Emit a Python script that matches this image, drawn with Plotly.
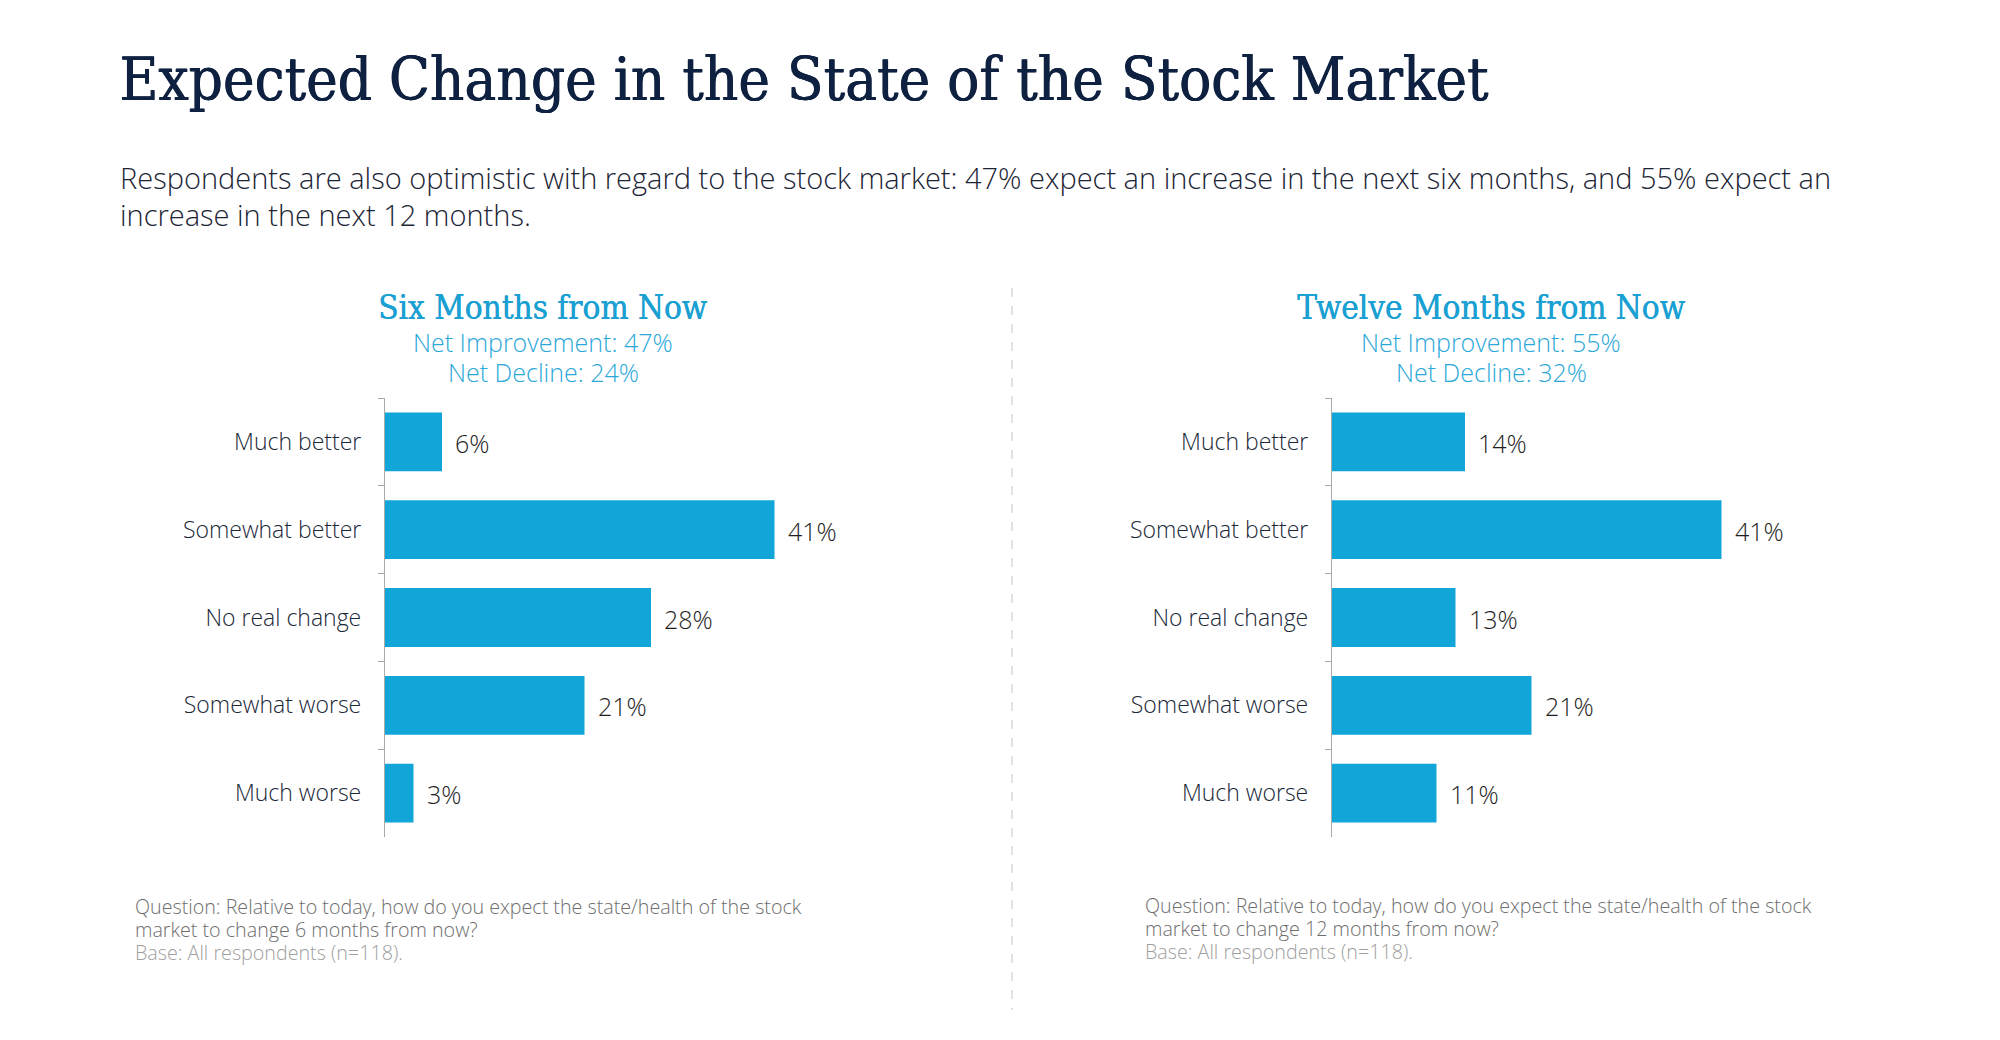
import plotly.graph_objects as go

# ---- data ----
categories = ["Much better", "Somewhat better", "No real change", "Somewhat worse", "Much worse"]
six_months = [6, 41, 28, 21, 3]
twelve_months = [14, 41, 13, 21, 11]
panel_titles = ["Six Months from Now", "Twelve Months from Now"]
net_improvement = [47, 55]
net_decline = [24, 32]
title_text = "Expected Change in the State of the Stock Market"
subtitle_lines = [
    "Respondents are also optimistic with regard to the stock market: 47% expect an increase in the next six months, and 55% expect an",
    "increase in the next 12 months.",
]
footnotes = [
    ["Question: Relative to today, how do you expect the state/health of the stock",
     "market to change 6 months from now?",
     "Base: All respondents (n=118)."],
    ["Question: Relative to today, how do you expect the state/health of the stock",
     "market to change 12 months from now?",
     "Base: All respondents (n=118)."],
]

OFF = 8  # browser body margin
W, H = 2000 - 2 * OFF, 1040 - 2 * OFF
BAR = "#12A5D8"
ACCENT = "#1AA0D2"
NAVY = "#0F2140"
SERIF = "DejaVu Serif Condensed, DejaVu Serif, serif"
SANS = "Open Sans, Noto Sans, sans-serif"

def px(x):
    return (x - OFF) / W

def py(y):
    return 1 - (y - OFF) / H

fig = go.Figure()

series = [six_months, twelve_months]
scale = 9.5  # page px per percent
axis_x = [385, 1332]
xdomains = [[px(a), px(a + 50 * scale)] for a in axis_x]
ydomain = [py(837), py(398)]

annotations = []
for i, vals in enumerate(series):
    xa = "x" if i == 0 else "x2"
    ya = "y" if i == 0 else "y2"
    fig.add_trace(go.Bar(
        x=vals, y=categories, orientation="h",
        marker=dict(color=BAR, line=dict(width=0)),
        width=0.67, xaxis=xa, yaxis=ya, showlegend=False,
        hoverinfo="skip",
    ))
    for c, v in zip(categories, vals):
        annotations.append(dict(
            x=v, y=c, xref=xa, yref=ya, text=f"{v}%", showarrow=False,
            xanchor="left", yanchor="middle", xshift=11, yshift=-1,
            font=dict(family=SANS, size=25, color="#1E1E1E", weight=300),
        ))

axis_common_x = dict(range=[0, 50], showgrid=False, zeroline=False, showline=False,
                     showticklabels=False, ticks="", fixedrange=True)
axis_common_y = dict(type="category", autorange="reversed", showgrid=False, zeroline=False,
                     showline=True, linecolor="#A9A9A9", linewidth=1.3,
                     ticks="outside", ticklen=6, tickcolor="#A9A9A9", tickwidth=1.3,
                     tickson="boundaries", ticklabelstandoff=18,
                     tickfont=dict(family=SANS, size=23, color="#1A2838", weight=300),
                     domain=ydomain, fixedrange=True)

fig.update_layout(
    width=W, height=H,
    margin=dict(l=0, r=0, t=0, b=0),
    paper_bgcolor="white", plot_bgcolor="white",
    bargap=0.33,
    xaxis=dict(domain=xdomains[0], anchor="y", **axis_common_x),
    xaxis2=dict(domain=xdomains[1], anchor="y2", **axis_common_x),
    yaxis=dict(anchor="x", **axis_common_y),
    yaxis2=dict(anchor="x2", **axis_common_y),
)

# Title and subtitle
annotations.append(dict(x=px(117), y=py(79), xref="paper", yref="paper", text=title_text,
                        showarrow=False, xanchor="left", yanchor="middle",
                        font=dict(family=SERIF, size=59.5, color=NAVY,
                                  shadow="0.8px 0px 0px #0F2140, 0.4px 0.3px 0px #0F2140")))
for j, line in enumerate(subtitle_lines):
    annotations.append(dict(x=px(118), y=py(177 + 37 * j), xref="paper", yref="paper", text=line,
                            showarrow=False, xanchor="left", yanchor="middle",
                            font=dict(family=SANS, size=29, color="#1C2536", weight=300)))

# Panel headers
centers = [543, 1491]
for i in range(2):
    cx = px(centers[i])
    annotations.append(dict(x=cx, y=py(307), xref="paper", yref="paper", text=panel_titles[i],
                            showarrow=False, xanchor="center", yanchor="middle",
                            font=dict(family=SERIF, size=33, color=ACCENT,
                                      shadow="0.5px 0px 0px #1AA0D2")))
    annotations.append(dict(x=cx, y=py(342), xref="paper", yref="paper",
                            text=f"Net Improvement: {net_improvement[i]}%",
                            showarrow=False, xanchor="center", yanchor="middle",
                            font=dict(family=SANS, size=25, color="#2BA8D8", weight=300)))
    annotations.append(dict(x=cx, y=py(372), xref="paper", yref="paper",
                            text=f"Net Decline: {net_decline[i]}%",
                            showarrow=False, xanchor="center", yanchor="middle",
                            font=dict(family=SANS, size=25, color="#2BA8D8", weight=300)))

# Footnotes
foot_x = [133, 1143]
foot_y = [[906, 929, 952], [905, 928, 951]]
for i in range(2):
    for j, line in enumerate(footnotes[i]):
        annotations.append(dict(x=px(foot_x[i]), y=py(foot_y[i][j]), xref="paper", yref="paper",
                                text=line, showarrow=False, xanchor="left", yanchor="middle",
                                font=dict(family=SANS, size=19.7, weight=300,
                                          color="#6E6E6E" if j < 2 else "#A0A0A0")))

fig.update_layout(annotations=annotations)

# Divider
fig.add_shape(type="line", xref="paper", yref="paper",
              x0=px(1012), x1=px(1012), y0=py(288), y1=py(1010),
              line=dict(color="#D9D9D9", width=1.5, dash="dash"))

fig.write_html("out.html")
